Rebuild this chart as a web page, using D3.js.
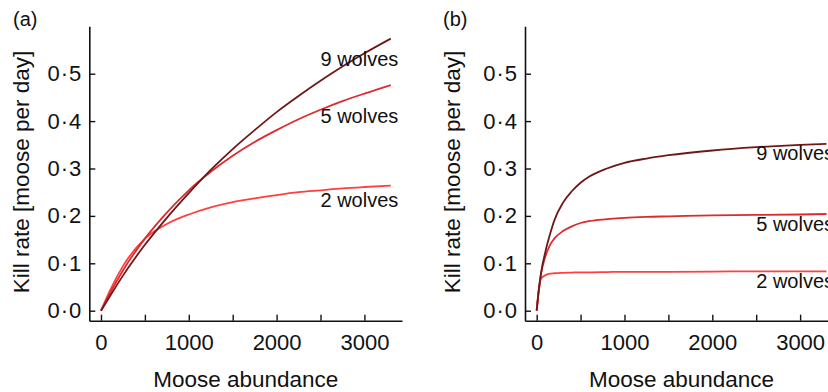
<!DOCTYPE html>
<html>
<head>
<meta charset="utf-8">
<script src="https://cdn.jsdelivr.net/npm/d3@7"></script>
<style>
  html, body { margin: 0; padding: 0; background: #fff; }
  svg { display: block; font-family: "Liberation Sans", Arial, Helvetica, sans-serif; }
</style>
</head>
<body>
<svg id="chart" width="828" height="392"></svg>
<script>
// ---------------- data ----------------
const seriesNames = ["2 wolves", "5 wolves", "9 wolves"];
const seriesColors = ["#ff4040", "#dc2a2e", "#6e1818"];

// Panel (a)
const mooseA = [0, 100, 250, 500, 750, 1000, 1250, 1500, 1750, 2000, 2250, 2500, 2750, 3000, 3300];
const wolves2A = [0, 0.042, 0.094, 0.152, 0.183, 0.203, 0.218, 0.229, 0.237, 0.244, 0.250, 0.254, 0.258, 0.261, 0.264];
const wolves5A = [0, 0.036, 0.085, 0.152, 0.207, 0.254, 0.293, 0.327, 0.356, 0.381, 0.404, 0.424, 0.442, 0.458, 0.476];
const wolves9A = [0, 0.030, 0.074, 0.139, 0.196, 0.248, 0.297, 0.341, 0.381, 0.419, 0.453, 0.485, 0.515, 0.543, 0.574];

// Panel (b)
const mooseB = [0, 25, 50, 100, 150, 200, 300, 400, 500, 600, 800, 1000, 1250, 1500, 2000, 2500, 3000, 3300];
const wolves2B = [0, 0.045, 0.068, 0.075, 0.078, 0.079, 0.080, 0.0805, 0.081, 0.081, 0.0815, 0.082, 0.082, 0.082, 0.0825, 0.083, 0.083, 0.083];
const wolves5B = [0, 0.045, 0.078, 0.115, 0.138, 0.152, 0.168, 0.178, 0.185, 0.189, 0.193, 0.196, 0.198, 0.199, 0.201, 0.202, 0.203, 0.204];
const wolves9B = [0, 0.045, 0.080, 0.125, 0.160, 0.190, 0.228, 0.252, 0.270, 0.283, 0.300, 0.312, 0.321, 0.328, 0.338, 0.345, 0.350, 0.352];

// label anchors (moose, kill rate) for each series
const labelPosA = [[2500, 0.219], [2500, 0.397], [2500, 0.517]];
const labelPosB = [[2500, 0.0488], [2500, 0.168], [2500, 0.317]];

const xTicks = [0, 500, 1000, 1500, 2000, 2500, 3000];
const xTickLabels = ["0", "", "1000", "", "2000", "", "3000"];
const yTicks = [0, 0.1, 0.2, 0.3, 0.4, 0.5];
const yTickLabels = ["0·0", "0·1", "0·2", "0·3", "0·4", "0·5"];

const panels = [
  { tag: "(a)", moose: mooseA, series: [wolves2A, wolves5A, wolves9A], labels: labelPosA, dx: 0, tagX: 13, titleX: 29 },
  { tag: "(b)", moose: mooseB, series: [wolves2B, wolves5B, wolves9B], labels: labelPosB, dx: 435.7, tagX: 443, titleX: 460 }
];

// ---------------- drawing ----------------
const svg = d3.select("#chart");

panels.forEach(p => {
  const g = svg.append("g").attr("transform", `translate(${p.dx},0)`);
  const x = d3.scaleLinear().domain([-133, 3428]).range([89.3, 402]);
  const y = d3.scaleLinear().domain([-0.0211, 0.6]).range([320.7, 26.3]);

  // curves
  const line = d3.line()
    .x(d => x(d[0]))
    .y(d => y(d[1]))
    .curve(d3.curveMonotoneX);

  p.series.forEach((vals, i) => {
    const pts = p.moose.map((m, j) => [m, vals[j]]);
    g.append("path")
      .datum(pts)
      .attr("fill", "none")
      .attr("stroke", seriesColors[i])
      .attr("stroke-width", 1.8)
      .attr("d", line);
  });

  // axes
  const xAxis = d3.axisBottom(x)
    .tickValues(xTicks)
    .tickFormat((d, i) => xTickLabels[i])
    .tickSizeInner(-6)
    .tickSizeOuter(0)
    .tickPadding(14);
  const yAxis = d3.axisLeft(y)
    .tickValues(yTicks)
    .tickFormat((d, i) => yTickLabels[i])
    .tickSizeInner(-6)
    .tickSizeOuter(0)
    .tickPadding(7);

  const gx = g.append("g").attr("transform", "translate(0,320.7)").call(xAxis);
  const gy = g.append("g").attr("transform", "translate(89.3,0)").call(yAxis);
  [gx, gy].forEach(a => {
    a.select(".domain").attr("stroke", "#111").attr("stroke-width", 1.6);
    a.selectAll(".tick line").attr("stroke", "#111").attr("stroke-width", 1.4);
    a.selectAll(".tick text")
      .attr("fill", "#111")
      .style("font-family", '"Liberation Sans", Arial, sans-serif')
      .style("font-size", "22px");
  });
  gy.selectAll(".tick text").style("letter-spacing", "1px");

  // series labels
  p.labels.forEach((lp, i) => {
    g.append("text")
      .attr("x", x(lp[0]))
      .attr("y", y(lp[1]))
      .attr("fill", "#111")
      .style("font-size", "20px")
      .text(seriesNames[i]);
  });

  // axis titles
  svg.append("text")
    .attr("transform", `translate(${p.titleX},172) rotate(-90)`)
    .attr("text-anchor", "middle")
    .attr("fill", "#111")
    .style("font-size", "22.5px")
    .text("Kill rate [moose per day]");

  g.append("text")
    .attr("x", 245.8)
    .attr("y", 387)
    .attr("text-anchor", "middle")
    .attr("fill", "#111")
    .style("font-size", "22.5px")
    .text("Moose abundance");

  // panel tag
  svg.append("text")
    .attr("x", p.tagX)
    .attr("y", 26)
    .attr("fill", "#111")
    .style("font-size", "20px")
    .text(p.tag);
});
</script>
</body>
</html>
